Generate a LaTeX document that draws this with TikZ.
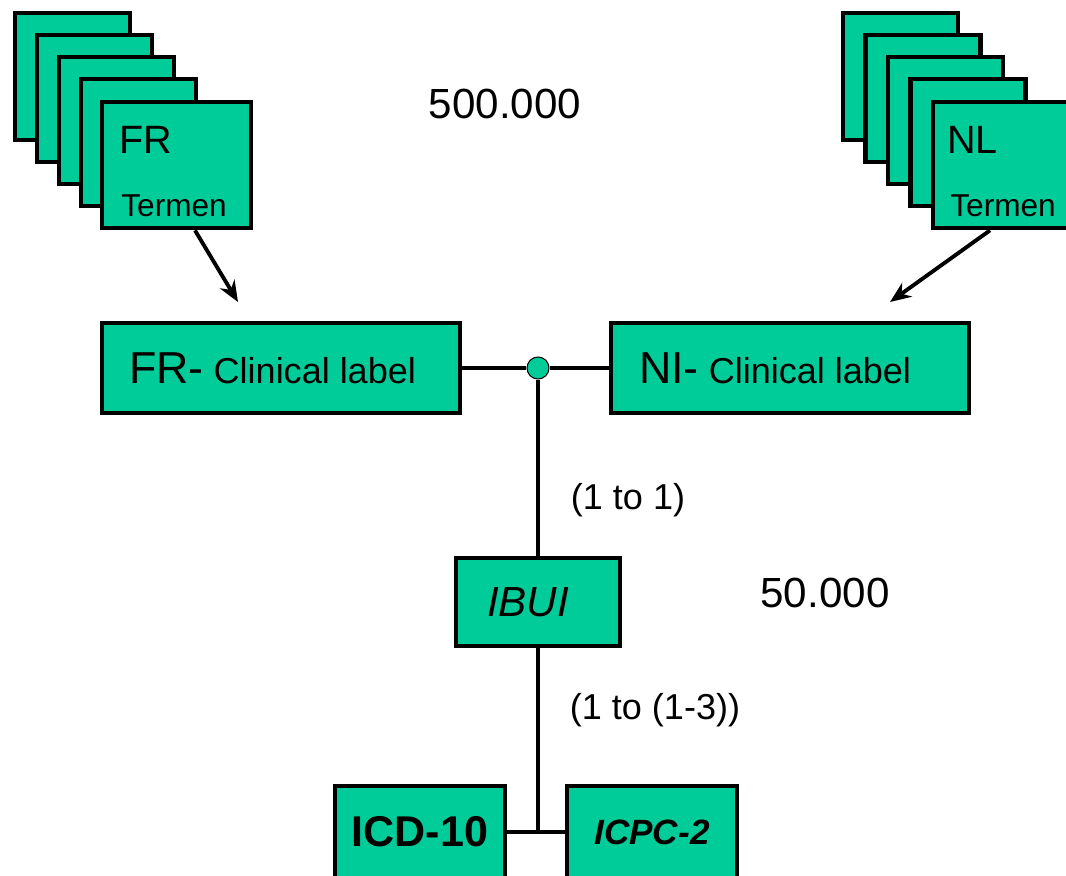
\documentclass[tikz,border=0pt]{standalone}
\usepackage{fontspec}
\setmainfont{Liberation Sans}
\usetikzlibrary{arrows.meta,calc,positioning}
\definecolor{termgreen}{RGB}{0,204,153}
\newcommand{\fsz}[1]{\fontsize{#1}{#1}\selectfont}
\tikzset{>={Stealth[length=0.42cm, width=0.34cm]}, % arrow heads of the feeds
box/.style={draw, line width=2.7pt, fill=termgreen, inner sep=0pt}, % every green box
sheet/.style={box, minimum width=2.3cm, minimum height=2.54cm}, % cards behind
frontsheet/.style={box, minimum width=2.98cm, minimum height=2.52cm}, % card in front
labelbox/.style={box, minimum width=7.16cm, minimum height=1.8cm, font=\fsz{20.5}},
codebox/.style={box, minimum width=3.4cm, minimum height=1.84cm},
wire/.style={line width=2.7pt}, % plain connecting lines
feed/.style={->, line width=2.2pt}, % arrows from the term cards
count/.style={font=\fsz{24}},
ratio/.style={font=\fsz{20.5}},
}

\begin{document}
\begin{tikzpicture}[x=0.02cm, y=-0.02cm]
\path[use as bounding box, clip] (0,0) rectangle (1066,876);
% stacks of term cards
\foreach \i in {1,...,4}{
\node[sheet] (fr\i) at (50.5+22*\i, 54.5+22*\i) {};
\node[sheet] (nl\i) at (878+22.5*\i, 54.5+22*\i) {};
}
\node[frontsheet] (fr5) at (176.5,165) {};
\node[frontsheet] (nl5) at (1007.5,165) {};
\node[anchor=base west, inner sep=0pt, font=\fsz{22.5}] (frname) at (119,153) {FR};
\node[anchor=base west, inner sep=0pt, font=\fsz{18}] (frterm) at (121,216) {Termen};
\node[anchor=base west, inner sep=0pt, font=\fsz{22.5}] (nlname) at (947,153) {NL};
\node[anchor=base west, inner sep=0pt, font=\fsz{18}] (nlterm) at (950,216) {Termen};
\node[count] (big) at (505,104) {500.000};
% clinical labels and the shared code
\node[labelbox] (frlab) at (281,368) {{\fsz{25.5}FR-} Clinical label\kern0.34cm};
\node[labelbox] (nllab) at (790,368) {{\fsz{25.5}NI-} Clinical label\kern0.6cm};
\node[circle, draw, line width=0.6pt, fill=termgreen, minimum size=0.44cm, inner sep=0pt] (hub) at (538,368) {};
\node[box, minimum width=3.28cm, minimum height=1.76cm, font=\fsz{24}\itshape] (ibui) at (538,602) {IBUI\kern0.4cm};
\node[count] (small) at (825,593) {50.000};
\node[ratio] (one2one) at (628,500) {(1 to 1)};
\node[ratio] (one2few) at (655,710) {(1 to (1-3))};
\node[codebox, font=\fsz{24.5}\bfseries] (icd) at (420,832) {ICD-10};
\node[codebox, font=\fsz{20}\bfseries\itshape] (icpc) at (652,832) {ICPC-2};
\coordinate (split) at (538,832);
\coordinate (frin) at (238,302);
\coordinate (nlin) at (890,302);
% connectors
\draw[feed] ($(fr5.south)+(18.5,0)$) -- (frin);
\draw[feed] ($(nl5.south)+(-17.5,0)$) -- (nlin);
\draw[wire] (frlab) -- (hub) -- (nllab);
\draw[wire] (hub) -- (ibui) -- (split);
\draw[wire] (icd) -- (icpc);
\end{tikzpicture}
\end{document}
